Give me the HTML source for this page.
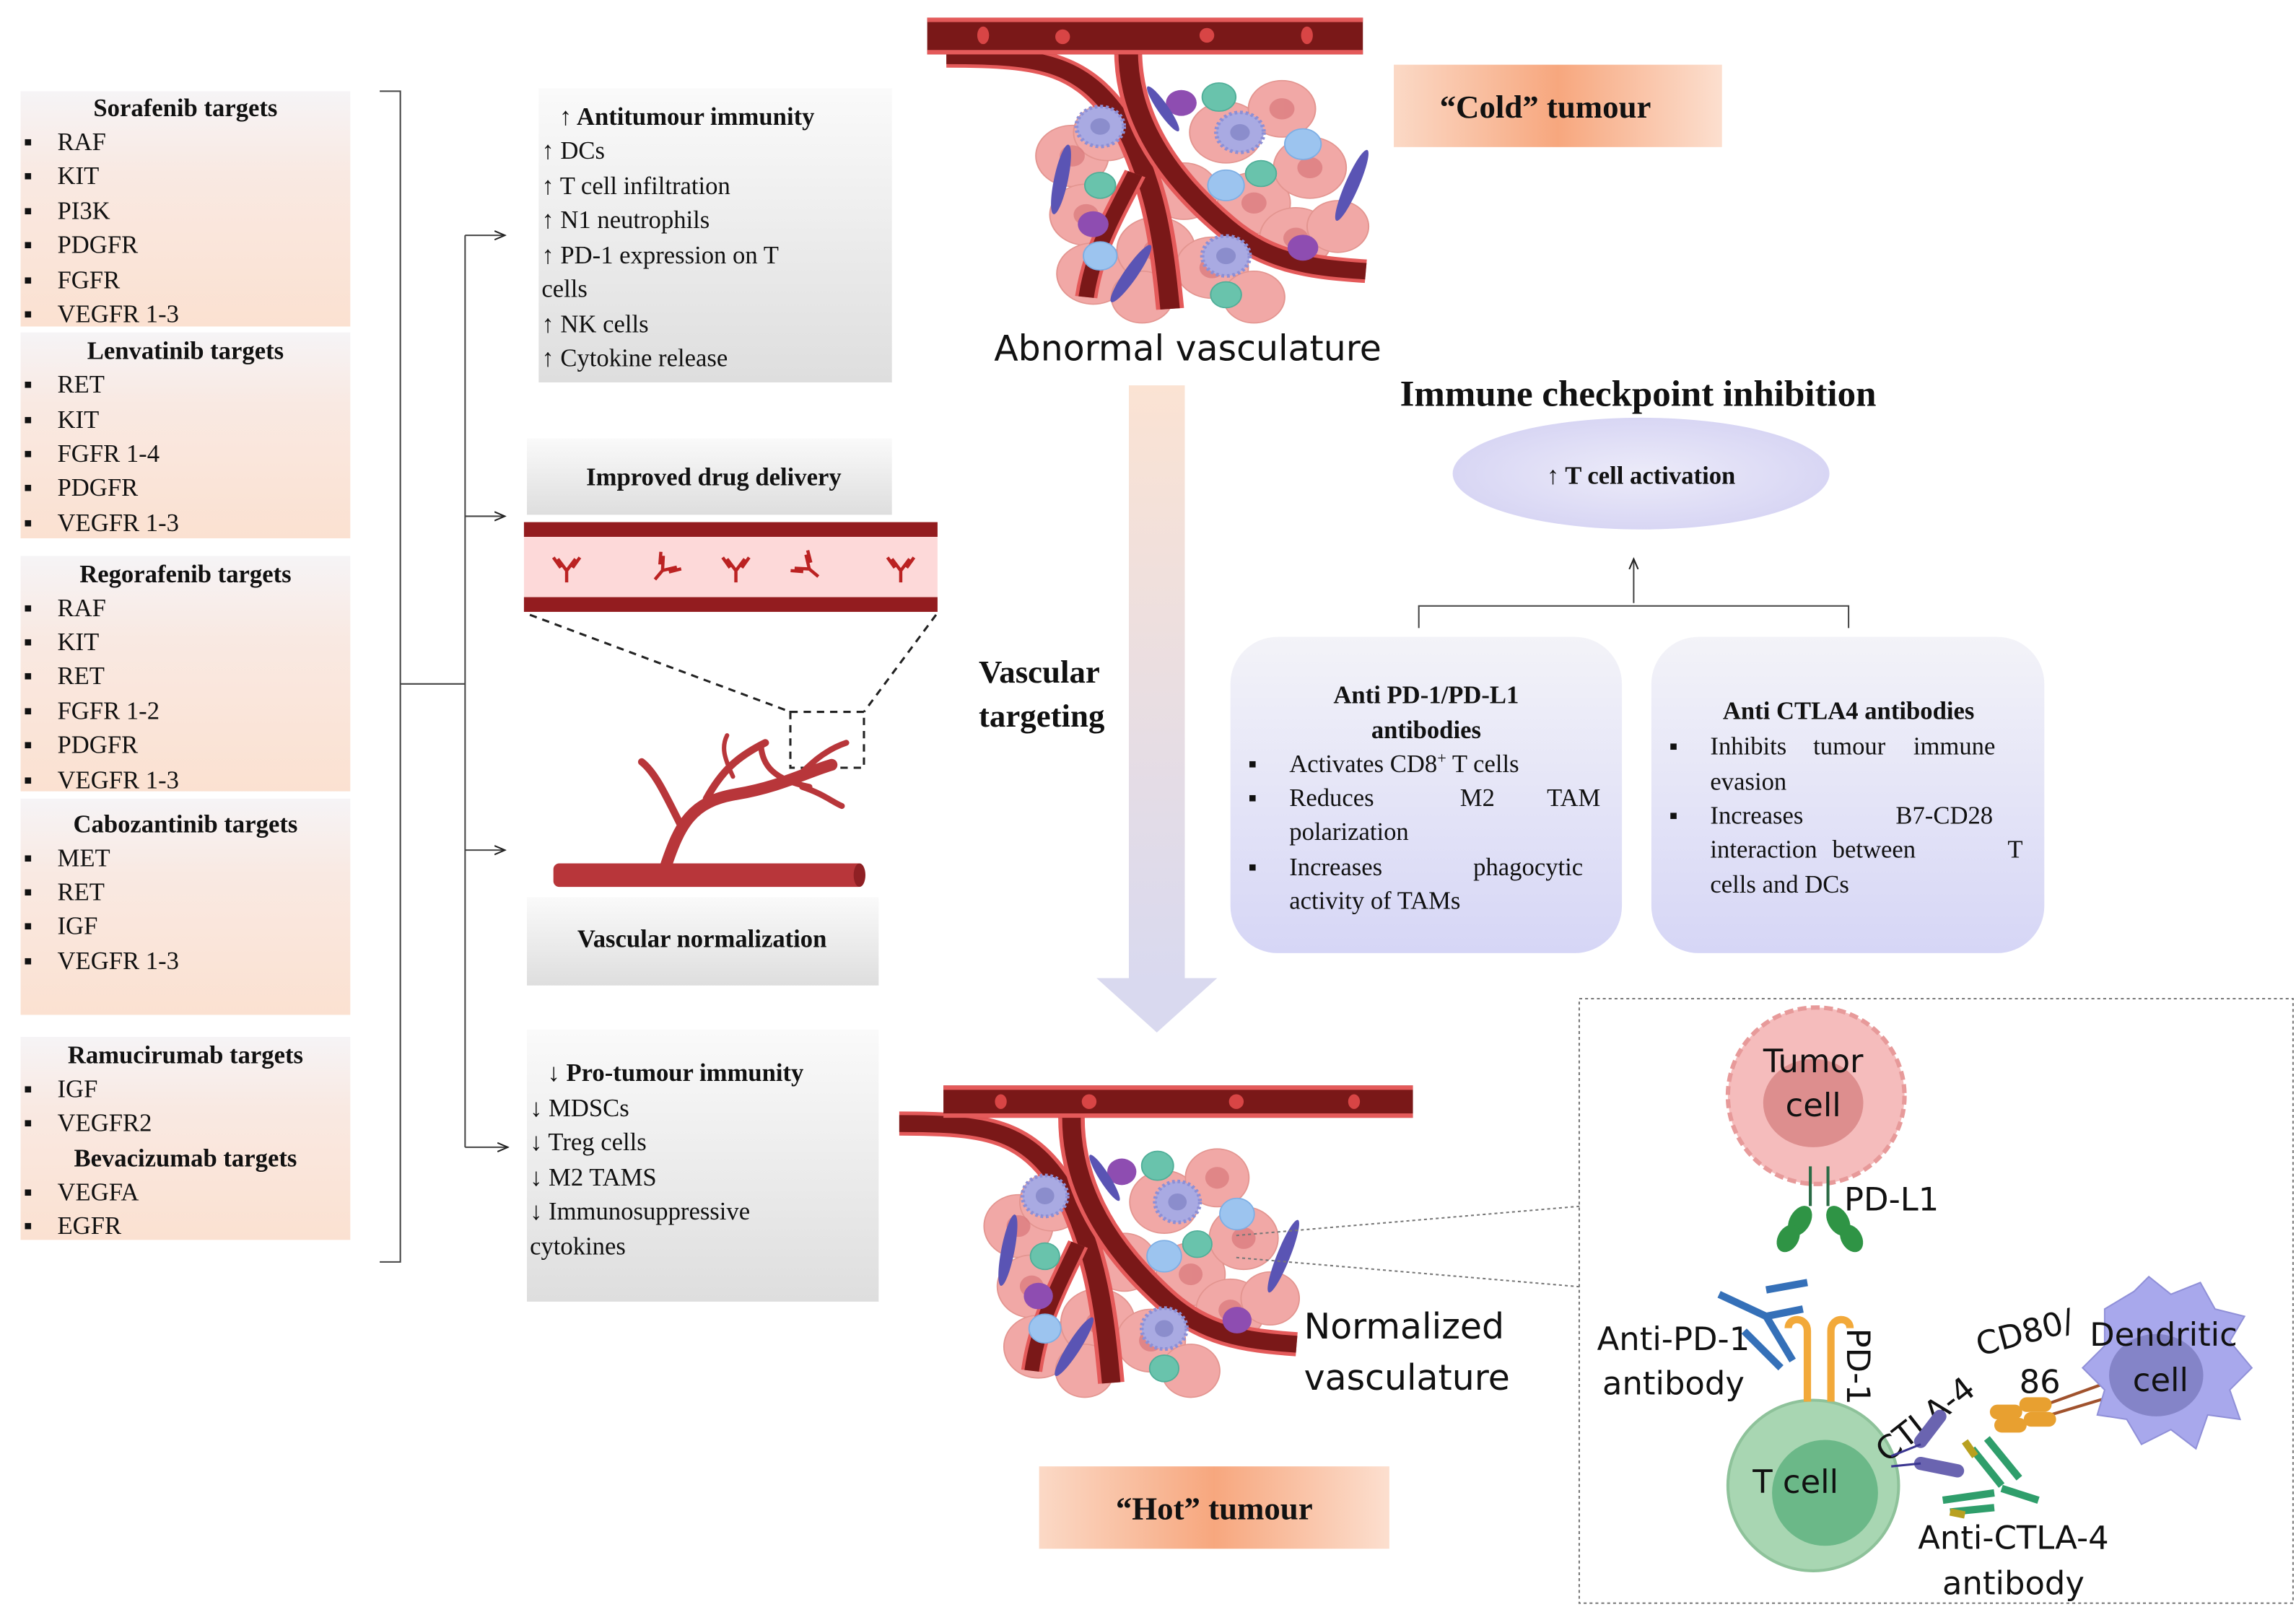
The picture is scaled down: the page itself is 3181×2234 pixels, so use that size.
<!DOCTYPE html>
<html><head><meta charset="utf-8"><style>
html,body{margin:0;padding:0;background:#fff}
svg{display:block}
.t{font-family:"Liberation Serif",serif;font-size:17px;fill:#111}
.b{font-weight:bold}
.s{font-family:"DejaVu Sans","Liberation Sans",sans-serif;fill:#111}
</style></head><body>
<svg width="3181" height="2234" viewBox="0 0 1560 1096" preserveAspectRatio="none" xmlns="http://www.w3.org/2000/svg">
<defs>
<linearGradient id="peach" x1="0" y1="0" x2="0" y2="1"><stop offset="0" stop-color="#f6f4f6"/><stop offset="0.35" stop-color="#f9e9e2"/><stop offset="1" stop-color="#fbe1d1"/></linearGradient>
<linearGradient id="gray" x1="0" y1="0" x2="0" y2="1"><stop offset="0" stop-color="#fafafa"/><stop offset="1" stop-color="#dedede"/></linearGradient>
<linearGradient id="lav" x1="0" y1="0" x2="0" y2="1"><stop offset="0" stop-color="#f3f3f8"/><stop offset="1" stop-color="#d6d6f6"/></linearGradient>
<radialGradient id="ell" cx="0.5" cy="0.5" r="0.5"><stop offset="0" stop-color="#ecebf9"/><stop offset="1" stop-color="#d8d6f4"/></radialGradient>
<linearGradient id="tag" x1="0" y1="0" x2="1" y2="0"><stop offset="0" stop-color="#fbd9c6"/><stop offset="0.5" stop-color="#f7a77e"/><stop offset="1" stop-color="#fcdfcf"/></linearGradient>
<linearGradient id="arr" x1="0" y1="0" x2="0" y2="1"><stop offset="0" stop-color="#fbe3d3"/><stop offset="1" stop-color="#d9d9ef"/></linearGradient>
<marker id="ah" markerWidth="8" markerHeight="8" refX="7" refY="4" orient="auto"><path d="M0,1 L7,4 L0,7" fill="none" stroke="#222" stroke-width="1"/></marker>
<g id="tumor">
 <g fill="#f1a8a6" stroke="#e39590" stroke-width="1">
  <circle cx="30" cy="80" r="26"/><circle cx="55" cy="60" r="24"/><circle cx="40" cy="130" r="26"/><circle cx="45" cy="180" r="26"/><circle cx="90" cy="160" r="28"/><circle cx="130" cy="175" r="26"/><circle cx="160" cy="120" r="26"/><circle cx="200" cy="90" r="26"/><circle cx="190" cy="150" r="26"/><circle cx="140" cy="60" r="26"/><circle cx="180" cy="40" r="24"/><circle cx="110" cy="110" r="24"/><circle cx="220" cy="140" r="22"/><circle cx="80" cy="200" r="22"/><circle cx="160" cy="200" r="22"/>
 </g>
 <g fill="#d9777a" opacity="0.7"><circle cx="30" cy="80" r="9"/><circle cx="40" cy="130" r="9"/><circle cx="90" cy="160" r="9"/><circle cx="160" cy="120" r="9"/><circle cx="200" cy="90" r="9"/><circle cx="190" cy="150" r="9"/><circle cx="180" cy="40" r="9"/><circle cx="130" cy="175" r="9"/></g>
 <path d="M-60,-5 C10,-5 40,0 70,60 C90,110 95,150 100,210" stroke="#e45a5a" stroke-width="20" fill="none"/>
 <path d="M-60,-5 C10,-5 40,0 70,60 C90,110 95,150 100,210" stroke="#7a1818" stroke-width="14" fill="none"/>
 <path d="M70,-10 C70,40 90,90 140,140 C170,170 200,175 240,178" stroke="#e45a5a" stroke-width="20" fill="none"/>
 <path d="M70,-10 C70,40 90,90 140,140 C170,170 200,175 240,178" stroke="#7a1818" stroke-width="14" fill="none"/>
 <path d="M75,95 C60,130 45,160 40,200" stroke="#e45a5a" stroke-width="16" fill="none"/>
 <path d="M75,95 C60,130 45,160 40,200" stroke="#7a1818" stroke-width="11" fill="none"/>
 <g fill="#a9aae2" stroke="#8d8fd6" stroke-width="3" stroke-dasharray="2 2"><circle cx="50" cy="55" r="17"/><circle cx="150" cy="60" r="17"/><circle cx="140" cy="165" r="17"/></g>
 <g fill="#8b8dcc"><circle cx="50" cy="55" r="7"/><circle cx="150" cy="60" r="7"/><circle cx="140" cy="165" r="7"/></g>
 <g fill="#9cc4ef" stroke="#7daee4"><circle cx="140" cy="105" r="13"/><circle cx="195" cy="70" r="13"/><circle cx="50" cy="165" r="12"/></g>
 <g fill="#69c3ac" stroke="#4fae98"><circle cx="135" cy="30" r="12"/><circle cx="50" cy="105" r="11"/><circle cx="165" cy="95" r="11"/><circle cx="140" cy="198" r="11"/></g>
 <g fill="#8e4db1"><circle cx="108" cy="35" r="11"/><circle cx="45" cy="138" r="11"/><circle cx="195" cy="158" r="11"/></g>
 <g fill="#5a54b4"><ellipse cx="22" cy="100" rx="5" ry="30" transform="rotate(10 22 100)"/><ellipse cx="230" cy="105" rx="5" ry="32" transform="rotate(20 230 105)"/><ellipse cx="72" cy="180" rx="5" ry="28" transform="rotate(30 72 180)"/><ellipse cx="95" cy="40" rx="4" ry="22" transform="rotate(-30 95 40)"/></g>
</g>
<g id="ab"><path d="M0,0 L0,-8 M0,-8 L-6,-16 M0,-8 L6,-16 M-4,-10 L-9,-17 M4,-10 L9,-17" stroke="#b22" stroke-width="2.2" fill="none"/></g>
</defs>

<!-- left boxes -->
<rect x="14" y="62" width="224" height="160" fill="url(#peach)"/>
<rect x="14" y="226" width="224" height="140" fill="url(#peach)"/>
<rect x="14" y="378" width="224" height="160" fill="url(#peach)"/>
<rect x="14" y="543" width="224" height="147" fill="url(#peach)"/>
<rect x="14" y="705" width="224" height="138" fill="url(#peach)"/>
<g class="t">
<text x="126" y="79" text-anchor="middle" class="b">Sorafenib targets</text>
<text x="126" y="244" text-anchor="middle" class="b">Lenvatinib targets</text>
<text x="126" y="396" text-anchor="middle" class="b">Regorafenib targets</text>
<text x="126" y="566" text-anchor="middle" class="b">Cabozantinib targets</text>
<text x="126" y="723" text-anchor="middle" class="b">Ramucirumab targets</text>
<text x="126" y="793" text-anchor="middle" class="b">Bevacizumab targets</text>
</g>
<g class="t">
<text x="16" y="102">▪<tspan x="39">RAF</tspan></text>
<text x="16" y="125">▪<tspan x="39">KIT</tspan></text>
<text x="16" y="149">▪<tspan x="39">PI3K</tspan></text>
<text x="16" y="172">▪<tspan x="39">PDGFR</tspan></text>
<text x="16" y="196">▪<tspan x="39">FGFR</tspan></text>
<text x="16" y="219">▪<tspan x="39">VEGFR 1-3</tspan></text>
<text x="16" y="267">▪<tspan x="39">RET</tspan></text>
<text x="16" y="291">▪<tspan x="39">KIT</tspan></text>
<text x="16" y="314">▪<tspan x="39">FGFR 1-4</tspan></text>
<text x="16" y="337">▪<tspan x="39">PDGFR</tspan></text>
<text x="16" y="361">▪<tspan x="39">VEGFR 1-3</tspan></text>
<text x="16" y="419">▪<tspan x="39">RAF</tspan></text>
<text x="16" y="442">▪<tspan x="39">KIT</tspan></text>
<text x="16" y="465">▪<tspan x="39">RET</tspan></text>
<text x="16" y="489">▪<tspan x="39">FGFR 1-2</tspan></text>
<text x="16" y="512">▪<tspan x="39">PDGFR</tspan></text>
<text x="16" y="536">▪<tspan x="39">VEGFR 1-3</tspan></text>
<text x="16" y="589">▪<tspan x="39">MET</tspan></text>
<text x="16" y="612">▪<tspan x="39">RET</tspan></text>
<text x="16" y="635">▪<tspan x="39">IGF</tspan></text>
<text x="16" y="659">▪<tspan x="39">VEGFR 1-3</tspan></text>
<text x="16" y="746">▪<tspan x="39">IGF</tspan></text>
<text x="16" y="769">▪<tspan x="39">VEGFR2</tspan></text>
<text x="16" y="816">▪<tspan x="39">VEGFA</tspan></text>
<text x="16" y="839">▪<tspan x="39">EGFR</tspan></text>
</g>

<!-- bracket & arrows -->
<g stroke="#444" stroke-width="1" fill="none">
<path d="M258,62 L272,62 L272,858 L258,858"/>
<path d="M272,465 L316,465"/>
<path d="M316,160 L316,780"/>
<path d="M316,160 L343,160" marker-end="url(#ah)"/>
<path d="M316,351 L343,351" marker-end="url(#ah)"/>
<path d="M316,578 L343,578" marker-end="url(#ah)"/>
<path d="M316,780 L345,780" marker-end="url(#ah)"/>
</g>

<!-- middle boxes -->
<rect x="366" y="60" width="240" height="200" fill="url(#gray)"/>
<g class="t">
<text x="380" y="85" class="b">↑ Antitumour immunity</text>
<text x="368" y="108">↑ DCs</text>
<text x="368" y="132">↑ T cell infiltration</text>
<text x="368" y="155">↑ N1 neutrophils</text>
<text x="368" y="179">↑ PD-1 expression on T</text>
<text x="368" y="202">cells</text>
<text x="368" y="226">↑ NK cells</text>
<text x="368" y="249">↑ Cytokine release</text>
</g>
<rect x="358" y="298" width="248" height="52" fill="url(#gray)"/>
<text x="485" y="330" text-anchor="middle" class="t b">Improved drug delivery</text>

<rect x="356" y="355" width="281" height="61" fill="#fdd9d9"/>
<rect x="356" y="355" width="281" height="10" fill="#931c1f"/>
<rect x="356" y="406" width="281" height="10" fill="#931c1f"/>
<use href="#ab" x="385" y="396"/>
<use href="#ab" transform="translate(445 394) rotate(40)"/>
<use href="#ab" x="500" y="396"/>
<use href="#ab" transform="translate(556 392) rotate(-50)"/>
<use href="#ab" x="612" y="396"/>
<g stroke="#222" stroke-width="1.5" stroke-dasharray="5 4" fill="none">
<path d="M360,418 L537,484"/><path d="M636,418 L587,484"/>
<rect x="537" y="484" width="50" height="38"/>
</g>
<!-- vessel tree -->
<rect x="376" y="587" width="211" height="16" rx="4" fill="#b8363a"/>
<ellipse cx="584" cy="595" rx="4" ry="8" fill="#8f2024"/>
<g stroke="#b8363a" fill="none" stroke-linecap="round">
<path d="M452,590 C462,560 470,545 500,540 C530,535 548,525 565,520" stroke-width="8"/>
<path d="M462,560 C452,540 445,525 436,518" stroke-width="5"/>
<path d="M480,543 C490,525 500,515 520,505" stroke-width="5"/>
<path d="M517,507 C518,520 525,530 550,535" stroke-width="4"/>
<path d="M540,530 C550,520 560,510 575,505" stroke-width="4"/>
<path d="M545,535 C560,540 565,545 572,548" stroke-width="4"/>
<path d="M498,528 C492,515 490,508 494,500" stroke-width="3"/>
</g>
<rect x="358" y="610" width="239" height="60" fill="url(#gray)"/>
<text x="477" y="644" text-anchor="middle" class="t b">Vascular normalization</text>

<rect x="358" y="700" width="239" height="185" fill="url(#gray)"/>
<g class="t">
<text x="372" y="735" class="b">↓ Pro-tumour immunity</text>
<text x="360" y="759">↓ MDSCs</text>
<text x="360" y="782">↓ Treg cells</text>
<text x="360" y="806">↓ M2 TAMS</text>
<text x="360" y="829">↓ Immunosuppressive</text>
<text x="360" y="853">cytokines</text>
</g>

<!-- top tumour -->
<use href="#tumor" transform="translate(700 42) scale(0.95 0.8)"/>
<rect x="630" y="12" width="296" height="25" fill="#7a1818"/>
<rect x="630" y="12" width="296" height="3" fill="#e45a5a"/>
<rect x="630" y="34" width="296" height="3" fill="#e45a5a"/>
<g fill="#d84545"><ellipse cx="668" cy="24" rx="4" ry="6"/><ellipse cx="722" cy="25" rx="5" ry="5"/><ellipse cx="820" cy="24" rx="5" ry="5"/><ellipse cx="888" cy="24" rx="4" ry="6"/></g>
<text x="807" y="245" text-anchor="middle" class="s" style="font-size:24px">Abnormal vasculature</text>

<rect x="947" y="44" width="223" height="56" fill="url(#tag)"/>
<text x="1050" y="80" text-anchor="middle" class="t b" style="font-size:22px">“Cold” tumour</text>

<!-- big arrow -->
<rect x="767" y="262" width="38" height="405" fill="url(#arr)"/>
<path d="M745,665 L827,665 L786,702 Z" fill="#d9d9ef"/>
<text x="665" y="464" class="t b" style="font-size:22px">Vascular</text>
<text x="665" y="494" class="t b" style="font-size:22px">targeting</text>

<!-- bottom tumour -->
<use href="#tumor" transform="translate(665 768) scale(0.9 0.82)"/>
<rect x="641" y="738" width="319" height="22" fill="#7a1818"/>
<rect x="641" y="738" width="319" height="3" fill="#e45a5a"/>
<rect x="641" y="757" width="319" height="3" fill="#e45a5a"/>
<g fill="#d84545"><ellipse cx="680" cy="749" rx="4" ry="5"/><ellipse cx="740" cy="749" rx="5" ry="5"/><ellipse cx="840" cy="749" rx="5" ry="5"/><ellipse cx="920" cy="749" rx="4" ry="5"/></g>
<text x="886" y="910" class="s" style="font-size:24px">Normalized</text>
<text x="886" y="945" class="s" style="font-size:24px">vasculature</text>
<rect x="706" y="997" width="238" height="56" fill="url(#tag)"/>
<text x="825" y="1033" text-anchor="middle" class="t b" style="font-size:22px">“Hot” tumour</text>

<!-- immune checkpoint -->
<text x="1113" y="276" text-anchor="middle" class="t b" style="font-size:25px">Immune checkpoint inhibition</text>
<ellipse cx="1115" cy="322" rx="128" ry="38" fill="url(#ell)"/>
<text x="1115" y="329" text-anchor="middle" class="t b">↑ T cell activation</text>
<g stroke="#444" stroke-width="1" fill="none">
<path d="M1110,410 L1110,380" marker-end="url(#ah)"/>
<path d="M964,427 L964,412 L1256,412 L1256,427"/>
</g>
<rect x="836" y="433" width="266" height="215" rx="32" fill="url(#lav)"/>
<rect x="1122" y="433" width="267" height="215" rx="32" fill="url(#lav)"/>
<g class="t">
<text x="969" y="478" text-anchor="middle" class="b">Anti PD-1/PD-L1</text>
<text x="969" y="502" text-anchor="middle" class="b">antibodies</text>
<text x="848" y="525">▪<tspan x="876">Activates CD8</tspan><tspan style="font-size:11px" dy="-6">+</tspan><tspan dy="6"> T cells</tspan></text>
<text x="848" y="548">▪<tspan x="876">Reduces</tspan><tspan x="992">M2</tspan><tspan x="1051">TAM</tspan></text>
<text x="876" y="571">polarization</text>
<text x="848" y="595">▪<tspan x="876">Increases</tspan><tspan x="1001">phagocytic</tspan></text>
<text x="876" y="618">activity of TAMs</text>
<text x="1256" y="489" text-anchor="middle" class="b">Anti CTLA4 antibodies</text>
<text x="1134" y="513">▪<tspan x="1162">Inhibits</tspan><tspan x="1232">tumour</tspan><tspan x="1300">immune</tspan></text>
<text x="1162" y="537">evasion</text>
<text x="1134" y="560">▪<tspan x="1162">Increases</tspan><tspan x="1288">B7-CD28</tspan></text>
<text x="1162" y="583">interaction</text><text x="1245" y="583">between</text><text x="1364" y="583">T</text>
<text x="1162" y="607">cells and DCs</text>
</g>

<!-- dashed detail box -->
<rect x="1073" y="679" width="485" height="411" fill="none" stroke="#777" stroke-width="1" stroke-dasharray="2 2"/>
<g stroke="#777" stroke-width="1" stroke-dasharray="2 2"><path d="M840,840 L1075,820"/><path d="M840,855 L1075,875"/></g>
<!-- tumor cell -->
<circle cx="1234" cy="745" r="60" fill="#f5bcbc" stroke="#e79a9a" stroke-width="3" stroke-dasharray="6 3"/>
<ellipse cx="1232" cy="750" rx="34" ry="30" fill="#dd8e8e"/>
<text x="1232" y="729" text-anchor="middle" class="s" style="font-size:22px">Tumor</text>
<text x="1232" y="759" text-anchor="middle" class="s" style="font-size:22px">cell</text>
<g stroke="#2a6b45" stroke-width="2"><path d="M1230,793 L1230,820"/><path d="M1242,793 L1242,820"/></g>
<g fill="#2f9445"><ellipse cx="1223" cy="830" rx="7" ry="11" transform="rotate(30 1223 830)"/><ellipse cx="1215" cy="842" rx="7" ry="10" transform="rotate(30 1215 842)"/><ellipse cx="1249" cy="830" rx="7" ry="11" transform="rotate(-30 1249 830)"/><ellipse cx="1258" cy="842" rx="7" ry="10" transform="rotate(-30 1258 842)"/></g>
<text x="1253" y="823" class="s" style="font-size:22px">PD-L1</text>
<!-- T cell -->
<circle cx="1232" cy="1010" r="58" fill="#a8d6b2" stroke="#8ec29a" stroke-width="2"/>
<circle cx="1240" cy="1015" r="36" fill="#6bb888"/>
<text x="1220" y="1015" text-anchor="middle" class="s" style="font-size:22px">T cell</text>
<!-- PD-1 -->
<g stroke="#f2a93a" stroke-width="5" fill="none"><path d="M1228,953 L1228,905 C1228,895 1215,895 1215,903"/><path d="M1244,953 L1244,905 C1244,895 1257,895 1257,903"/></g>
<text transform="translate(1255 903) rotate(90)" class="s" style="font-size:22px">PD-1</text>
<!-- anti-PD-1 -->
<g stroke="#3570b8" stroke-width="5" fill="none"><path d="M1168,880 L1200,895 L1225,890"/><path d="M1200,895 L1218,925"/><path d="M1185,905 L1210,930"/><path d="M1200,877 L1228,872"/></g>
<text x="1137" y="918" text-anchor="middle" class="s" style="font-size:22px">Anti-PD-1</text>
<text x="1137" y="948" text-anchor="middle" class="s" style="font-size:22px">antibody</text>
<!-- CTLA-4 -->
<text transform="translate(1282 995) rotate(-38)" class="s" style="font-size:22px">CTLA-4</text>
<g stroke="#6a64b0" stroke-width="9" stroke-linecap="round"><path d="M1305,980 L1318,963"/><path d="M1305,995 L1330,1000"/></g>
<g stroke="#3a3590" stroke-width="1.5"><path d="M1285,990 L1305,982"/><path d="M1285,997 L1305,995"/></g>
<!-- anti-CTLA-4 -->
<g stroke="#2f9e6b" stroke-width="5"><path d="M1340,985 L1360,1010"/><path d="M1350,978 L1372,1005"/><path d="M1320,1020 L1355,1015"/><path d="M1325,1028 L1355,1025"/><path d="M1360,1012 L1385,1020"/></g>
<g stroke="#b8a020" stroke-width="5"><path d="M1335,980 L1342,990"/><path d="M1325,1028 L1335,1030"/></g>
<text x="1368" y="1053" text-anchor="middle" class="s" style="font-size:22px">Anti-CTLA-4</text>
<text x="1368" y="1084" text-anchor="middle" class="s" style="font-size:22px">antibody</text>
<!-- CD80 -->
<text transform="translate(1345 922) rotate(-15)" class="s" style="font-size:22px">CD80/</text>
<text x="1372" y="947" class="s" style="font-size:22px">86</text>
<g stroke="#a0522d" stroke-width="2"><path d="M1390,955 L1440,937"/><path d="M1393,962 L1443,947"/></g>
<g fill="#e8a030"><rect x="1352" y="955" width="22" height="10" rx="5"/><rect x="1372" y="950" width="22" height="10" rx="5"/><rect x="1355" y="964" width="22" height="10" rx="5"/><rect x="1375" y="960" width="22" height="10" rx="5"/></g>
<!-- Dendritic cell -->
<path d="M1430,890 L1450,878 L1460,868 L1475,880 L1495,872 L1505,890 L1525,895 L1515,912 L1530,930 L1515,945 L1522,965 L1500,962 L1492,985 L1475,972 L1455,982 L1445,965 L1425,962 L1430,945 L1415,930 L1430,915 Z" fill="#a8a8ec" stroke="#9090d8"/>
<ellipse cx="1465" cy="935" rx="32" ry="28" fill="#8484c8"/>
<text x="1470" y="915" text-anchor="middle" class="s" style="font-size:22px">Dendritic</text>
<text x="1468" y="946" text-anchor="middle" class="s" style="font-size:22px">cell</text>
</svg>
</body></html>
